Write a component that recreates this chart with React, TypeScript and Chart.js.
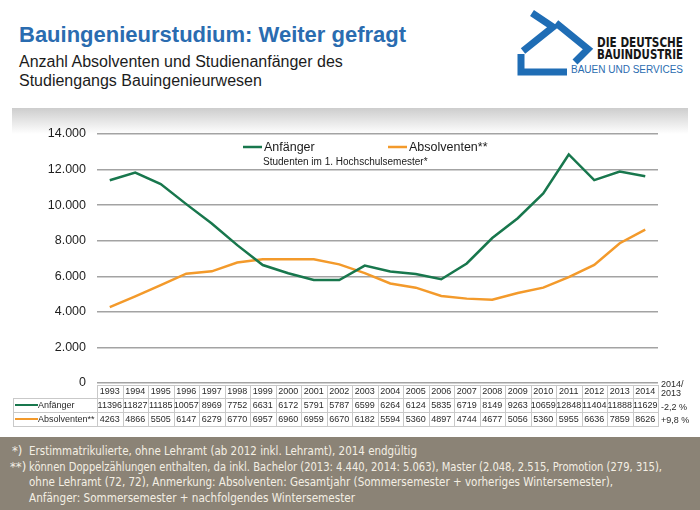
import React, { useEffect, useRef } from "react";
import { Chart, registerables } from "chart.js";

Chart.register(...registerables);

// ---------- data ----------
const years = ["1993", "1994", "1995", "1996", "1997", "1998", "1999", "2000", "2001", "2002", "2003", "2004", "2005", "2006", "2007", "2008", "2009", "2010", "2011", "2012", "2013", "2014"];
const anfaenger = [11396, 11827, 11185, 10057, 8969, 7752, 6631, 6172, 5791, 5787, 6599, 6264, 6124, 5835, 6719, 8149, 9263, 10659, 12848, 11404, 11888, 11629];
const absolventen = [4263, 4866, 5505, 6147, 6279, 6770, 6957, 6960, 6959, 6670, 6182, 5594, 5360, 4897, 4744, 4677, 5056, 5360, 5955, 6636, 7859, 8626];
const seriesLabels = ["Anfänger", "Absolventen**"];
const changeHeader = ["2014/", "2013"];
const changeValues = ["-2,2 %", "+9,8 %"];
const yMin = 0;
const yMax = 14000;
const yStep = 2000;
const legendNote = "Studenten im 1. Hochschulsemester*";
const title = "Bauingenieurstudium: Weiter gefragt";
const subtitleLines = ["Anzahl Absolventen und Studienanfänger des", "Studiengangs Bauingenieurwesen"];
const footMarks = ["*)", "**)", "", ""];
const footLines = [
  "Erstimmatrikulierte, ohne Lehramt (ab 2012 inkl. Lehramt), 2014 endgültig",
  "können Doppelzählungen enthalten, da inkl. Bachelor (2013: 4.440, 2014: 5.063), Master (2.048, 2.515, Promotion (279, 315),",
  "ohne Lehramt (72, 72), Anmerkung: Absolventen: Gesamtjahr (Sommersemester + vorheriges Wintersemester),",
  "Anfänger: Sommersemester + nachfolgendes Wintersemester",
];

// ---------- styles ----------
const GREEN = "#18774d";
const ORANGE = "#f39a2b";
const BLUE = "#2a6cb0";
const FONT = '"Liberation Sans", Arial, Helvetica, sans-serif';
const NARROW = '"Liberation Sans Narrow", "DejaVu Sans Condensed", "Liberation Sans", sans-serif';

const fmt = (v: number) => String(v).replace(/\B(?=(\d{3})+(?!\d))/g, ".");

const decoPlugin = {
  id: "deco",
  beforeDraw(chart: any) {
    const ctx = chart.ctx as CanvasRenderingContext2D;
    ctx.save();
    const g = ctx.createLinearGradient(0, 108, 0, 134);
    g.addColorStop(0, "#cdcdcd");
    g.addColorStop(1, "#ffffff");
    ctx.fillStyle = g;
    ctx.fillRect(12, 108, 676, 26);
    ctx.restore();
  },
  afterDraw(chart: any) {
    const ctx = chart.ctx as CanvasRenderingContext2D;
    const area = chart.chartArea;
    const xs = chart.scales.x;
    const n = years.length;
    const w = (area.right - area.left) / n;
    const ds = chart.data.datasets;

    // legend inside chart
    ctx.save();
    const legX = [area.left + 146, area.left + 291];
    const legY = area.top + 13;
    ds.forEach((d: any, i: number) => {
      ctx.strokeStyle = d.borderColor;
      ctx.lineWidth = 2.5;
      ctx.beginPath();
      ctx.moveTo(legX[i], legY);
      ctx.lineTo(legX[i] + 19, legY);
      ctx.stroke();
      ctx.fillStyle = "#1a1a1a";
      ctx.font = `12.5px ${FONT}`;
      ctx.textBaseline = "middle";
      ctx.textAlign = "left";
      ctx.fillText(d.label, legX[i] + 21, legY + 0.5);
    });
    ctx.font = `10px ${FONT}`;
    ctx.fillText(legendNote, area.left + 166, area.top + 28);

    // data table
    const t0 = area.bottom + 2;
    const rows = [t0, t0 + 13, t0 + 27, t0 + 41];
    ctx.strokeStyle = "#c9c9c9";
    ctx.lineWidth = 1;
    ctx.font = `9px ${FONT}`;
    ctx.fillStyle = "#2a2a2a";
    ctx.textAlign = "center";
    ctx.textBaseline = "middle";
    const cell = (x0: number, y0: number, x1: number, y1: number) => {
      ctx.strokeRect(Math.round(x0) + 0.5, Math.round(y0) + 0.5, Math.round(x1) - Math.round(x0), Math.round(y1) - Math.round(y0));
    };
    years.forEach((yr, i) => {
      const cx = xs.getPixelForValue(i);
      cell(cx - w / 2, rows[0], cx + w / 2, rows[1]);
      cell(cx - w / 2, rows[1], cx + w / 2, rows[2]);
      cell(cx - w / 2, rows[2], cx + w / 2, rows[3]);
      ctx.fillText(yr, cx, (rows[0] + rows[1]) / 2 + 0.5);
      ctx.fillText(String(ds[0].data[i]), cx, (rows[1] + rows[2]) / 2 + 0.5);
      ctx.fillText(String(ds[1].data[i]), cx, (rows[2] + rows[3]) / 2 + 0.5);
    });
    // label cells
    [1, 2].forEach((r, k) => {
      cell(13, rows[r], area.left, rows[r + 1]);
      const cy = (rows[r] + rows[r + 1]) / 2;
      ctx.strokeStyle = ds[k].borderColor;
      ctx.lineWidth = 2;
      ctx.beginPath();
      ctx.moveTo(15, cy);
      ctx.lineTo(38, cy);
      ctx.stroke();
      ctx.strokeStyle = "#c9c9c9";
      ctx.lineWidth = 1;
      ctx.textAlign = "left";
      ctx.fillText(ds[k].label, 38, cy + 0.5);
    });
    // change column
    ctx.textAlign = "left";
    const rx = area.right + 3;
    ctx.fillText(changeHeader[0], rx, rows[0] + 0);
    ctx.fillText(changeHeader[1], rx, rows[0] + 9);
    ctx.fillText(changeValues[0], rx, rows[1] + 10);
    ctx.fillText(changeValues[1], rx, rows[2] + 9);
    ctx.restore();
  },
};

function ChartCanvas() {
  const ref = useRef<HTMLCanvasElement | null>(null);
  useEffect(() => {
    if (!ref.current) return;
    Chart.defaults.font.family = FONT;
    const chart = new Chart(ref.current, {
      type: "line",
      data: {
        labels: years,
        datasets: [
          { label: seriesLabels[0], data: anfaenger, borderColor: GREEN, backgroundColor: GREEN, borderWidth: 2.5, pointRadius: 0, tension: 0 },
          { label: seriesLabels[1], data: absolventen, borderColor: ORANGE, backgroundColor: ORANGE, borderWidth: 2.5, pointRadius: 0, tension: 0 },
        ],
      },
      options: {
        responsive: false,
        animation: false,
        devicePixelRatio: 1,
        layout: { padding: { left: 0, right: 42, top: 134, bottom: 54 } },
        plugins: { legend: { display: false }, tooltip: { enabled: false }, title: { display: false } },
        scales: {
          x: { type: "category", display: false, offset: true },
          y: {
            min: yMin,
            max: yMax,
            border: { display: false },
            grid: { color: "#a3a3a3", lineWidth: 1.4, drawTicks: false },
            afterFit: (s: any) => { s.width = 97; },
            ticks: {
              stepSize: yStep,
              padding: 11,
              color: "#1e1e1e",
              font: { size: 12.5, family: FONT },
              callback: (v: any) => fmt(Number(v)),
            },
          },
        },
      },
      plugins: [decoPlugin],
    });
    return () => chart.destroy();
  }, []);
  return <canvas ref={ref} width={700} height={437} style={{ position: "absolute", left: 0, top: 0, width: 700, height: 437 }} />;
}

export default function App() {
  const footW = [388, 633, 584, 326];
  return (
    <div style={{ position: "absolute", left: 0, top: 0, width: 700, height: 510, background: "#fff", overflow: "hidden", fontFamily: FONT }}>
      <div style={{ position: "absolute", left: 19, top: 24, fontSize: 22, lineHeight: "22px", fontWeight: "bold", color: BLUE, whiteSpace: "nowrap" }}>{title}</div>
      <div style={{ position: "absolute", left: 19, top: 52, fontSize: 16, lineHeight: "19px", color: "#1c1c1c", whiteSpace: "nowrap" }}>
        {subtitleLines.map((l, i) => (<div key={i}>{l}</div>))}
      </div>
      <svg width={700} height={100} style={{ position: "absolute", left: 0, top: 0 }}>
        <g fill="none" stroke="#1f6db5" strokeWidth={7} strokeLinejoin="miter">
          <path d="M 532 13 L 553 27 L 523 51" />
          <path d="M 556 23 L 588 49 L 575 62" />
          <path d="M 521 54 L 521 72 L 567 72" />
        </g>
        <text x={597} y={46.5} textLength={86} lengthAdjust="spacingAndGlyphs" style={{ fontFamily: NARROW, fontWeight: "bold", fontSize: 14, fill: "#161616" }}>DIE DEUTSCHE</text>
        <text x={597} y={58.5} textLength={86} lengthAdjust="spacingAndGlyphs" style={{ fontFamily: NARROW, fontWeight: "bold", fontSize: 14, fill: "#161616" }}>BAUINDUSTRIE</text>
        <text x={571} y={73} textLength={112} lengthAdjust="spacing" style={{ fontFamily: FONT, fontSize: 10, fill: "#2a6cb0" }}>BAUEN UND SERVICES</text>
      </svg>
      <ChartCanvas />
      <svg width={700} height={73} style={{ position: "absolute", left: 0, top: 437 }}>
        <rect x={0} y={0} width={700} height={73} fill="#8b8376" />
        {footLines.map((l, i) => (
          <g key={i}>
            {footMarks[i] ? (
              <text x={i === 0 ? 12 : 10} y={18 + i * 15.7} style={{ fontFamily: NARROW, fontSize: 13, fill: "#f4efe4" }}>{footMarks[i]}</text>
            ) : null}
            <text x={29} y={18 + i * 15.7} textLength={footW[i]} lengthAdjust="spacingAndGlyphs" style={{ fontFamily: NARROW, fontSize: 13, fill: "#f4efe4" }}>{l}</text>
          </g>
        ))}
      </svg>
    </div>
  );
}
